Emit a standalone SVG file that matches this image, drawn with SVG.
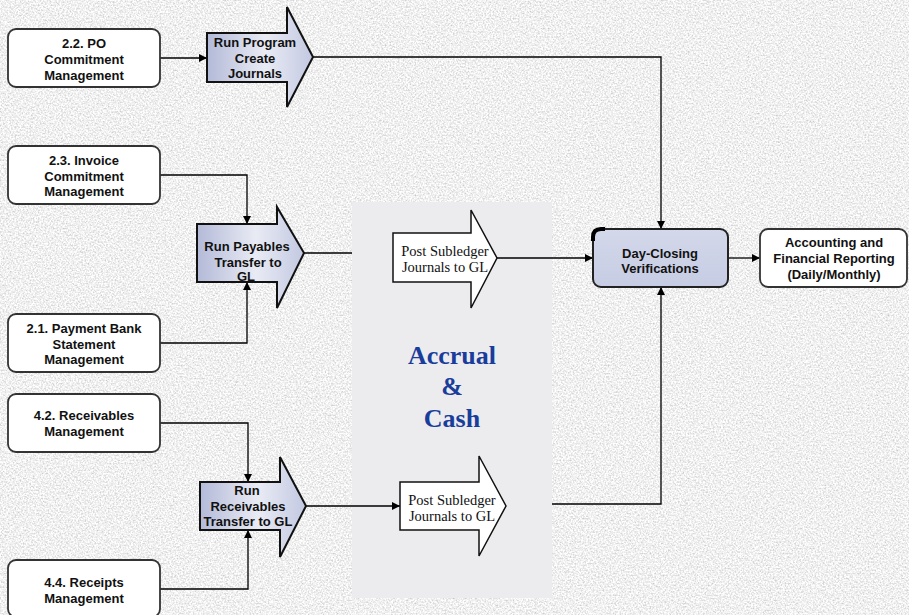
<svg xmlns="http://www.w3.org/2000/svg" width="909" height="615" viewBox="0 0 909 615">
<defs>
<filter id="granite" filterUnits="userSpaceOnUse" x="0" y="0" width="909" height="615">
<feTurbulence type="fractalNoise" baseFrequency="0.6" numOctaves="3" seed="7" result="n"/>
<feColorMatrix in="n" type="matrix" values="0.75 0 0 0 0.5  0.75 0 0 0 0.5  0.75 0 0 0 0.5  0 0 0 0 1"/>
</filter>
<linearGradient id="blueGrad" x1="0" y1="0" x2="1" y2="0">
<stop offset="0" stop-color="#b3bad8"/>
<stop offset="0.55" stop-color="#e9ebf4"/>
<stop offset="1" stop-color="#c2c8e1"/>
</linearGradient>
<linearGradient id="dayGrad" x1="0" y1="0" x2="0" y2="1">
<stop offset="0" stop-color="#d3d8ea"/>
<stop offset="1" stop-color="#c6cce3"/>
</linearGradient>
<marker id="arr" viewBox="0 0 10 10" refX="10" refY="5" markerWidth="8" markerHeight="8" markerUnits="userSpaceOnUse" orient="auto">
<path d="M0,0 L10,5 L0,10 z" fill="#000"/>
</marker>
<style>
.box{fill:#fff;stroke:#333;stroke-width:1.8}
.day{fill:url(#dayGrad);stroke:#222;stroke-width:2}
.blue{fill:url(#blueGrad);stroke:#111;stroke-width:2;stroke-linejoin:miter}
.white{fill:#fff;stroke:#111;stroke-width:1.5}
.t{font-family:"Liberation Sans",Arial,sans-serif;font-weight:bold;font-size:13px;fill:#111;text-anchor:middle}
.s{font-family:"Liberation Serif","Times New Roman",serif;font-size:14.5px;fill:#111;text-anchor:middle}
.big{font-family:"Liberation Serif","Times New Roman",serif;font-weight:bold;font-size:26px;fill:#1a3d9c;text-anchor:middle}
.c{fill:none;stroke:#000;stroke-width:1.3}
</style>
</defs>
<rect x="0" y="0" width="909" height="615" fill="#d8d8d8"/>
<rect x="0" y="0" width="909" height="615" filter="url(#granite)"/>
<rect id="panel" x="352" y="202" width="200" height="396" fill="#ececee"/>

<g id="connectors">
<path class="c" d="M160,58 L207,58" marker-end="url(#arr)"/>
<path class="c" d="M313,57 L661,57 L661,229" marker-end="url(#arr)"/>
<path class="c" d="M160,175 L247,175 L247,224" marker-end="url(#arr)"/>
<path class="c" d="M160,343 L247,343 L247,282" marker-end="url(#arr)"/>
<path class="c" d="M304,253 L352,253"/>
<path class="c" d="M497,258 L593,258" marker-end="url(#arr)"/>
<path class="c" d="M160,423 L248,423 L248,482" marker-end="url(#arr)"/>
<path class="c" d="M160,589 L248,589 L248,530" marker-end="url(#arr)"/>
<path class="c" d="M306,506 L400,506" marker-end="url(#arr)"/>
<path class="c" d="M552,504 L661,504 L661,287" marker-end="url(#arr)"/>
<path class="c" d="M728,258 L760,258" marker-end="url(#arr)"/>
</g>

<g id="po">
<rect class="box" x="8" y="29" width="152" height="58" rx="8"/>
<text class="t" x="84" y="48">2.2. PO</text>
<text class="t" x="84" y="64">Commitment</text>
<text class="t" x="84" y="80">Management</text>
</g>

<g id="runProgram">
<path class="blue" d="M207,33 L287,33 L287,7 L313,57 L287,107 L287,82 L207,82 z"/>
<text class="t" x="255" y="47">Run Program</text>
<text class="t" x="255" y="63">Create</text>
<text class="t" x="255" y="78">Journals</text>
</g>

<g id="invoice">
<rect class="box" x="8" y="146" width="152" height="58" rx="8"/>
<text class="t" x="84" y="165">2.3. Invoice</text>
<text class="t" x="84" y="181">Commitment</text>
<text class="t" x="84" y="196">Management</text>
</g>

<g id="payment">
<rect class="box" x="8" y="314" width="152" height="58" rx="8"/>
<text class="t" x="84" y="333">2.1. Payment Bank</text>
<text class="t" x="84" y="349">Statement</text>
<text class="t" x="84" y="364">Management</text>
</g>

<g id="runPayables">
<path class="blue" d="M197,224 L277,224 L277,207 L304,253 L277,308 L277,282 L197,282 z"/>
<text class="t" x="247" y="251">Run Payables</text>
<text class="t" x="248" y="267">Transfer to</text>
<text class="t" x="246" y="281">GL</text>
</g>

<g id="post1">
<path class="white" d="M393,233 L471,233 L471,210 L497,258 L471,308 L471,282 L393,282 z"/>
<text class="s" x="445" y="256">Post Subledger</text>
<text class="s" x="445" y="272">Journals to GL</text>
</g>

<g id="accrual">
<text class="big" x="452" y="364">Accrual</text>
<text class="big" x="452" y="395">&amp;</text>
<text class="big" x="452" y="427">Cash</text>
</g>

<g id="receivables">
<rect class="box" x="8" y="394" width="152" height="58" rx="8"/>
<text class="t" x="84" y="420">4.2. Receivables</text>
<text class="t" x="84" y="436">Management</text>
</g>

<g id="runReceivables">
<path class="blue" d="M200,482 L280,482 L280,457 L306,506 L280,557 L280,530 L200,530 z"/>
<text class="t" x="247" y="495">Run</text>
<text class="t" x="248" y="511">Receivables</text>
<text class="t" x="248" y="526">Transfer to GL</text>
</g>

<g id="post2">
<path class="white" d="M400,482 L479,482 L479,456 L506,506 L479,556 L479,530 L400,530 z"/>
<text class="s" x="452" y="505">Post Subledger</text>
<text class="s" x="452" y="521">Journals to GL</text>
</g>

<g id="receipts">
<rect class="box" x="8" y="560" width="152" height="57" rx="8"/>
<text class="t" x="84" y="587">4.4. Receipts</text>
<text class="t" x="84" y="603">Management</text>
</g>

<g id="dayClosing">
<rect class="day" x="593" y="229" width="135" height="58" rx="8"/>
<path d="M593,241 L593,237 Q593,229 601,229 L605,229" fill="none" stroke="#000" stroke-width="4"/>
<text class="t" x="660" y="258">Day-Closing</text>
<text class="t" x="660" y="273">Verifications</text>
</g>

<g id="accounting">
<rect class="box" x="760" y="229" width="147" height="58" rx="8"/>
<text class="t" x="834" y="247">Accounting and</text>
<text class="t" x="834" y="263">Financial Reporting</text>
<text class="t" x="834" y="279">(Daily/Monthly)</text>
</g>
</svg>
